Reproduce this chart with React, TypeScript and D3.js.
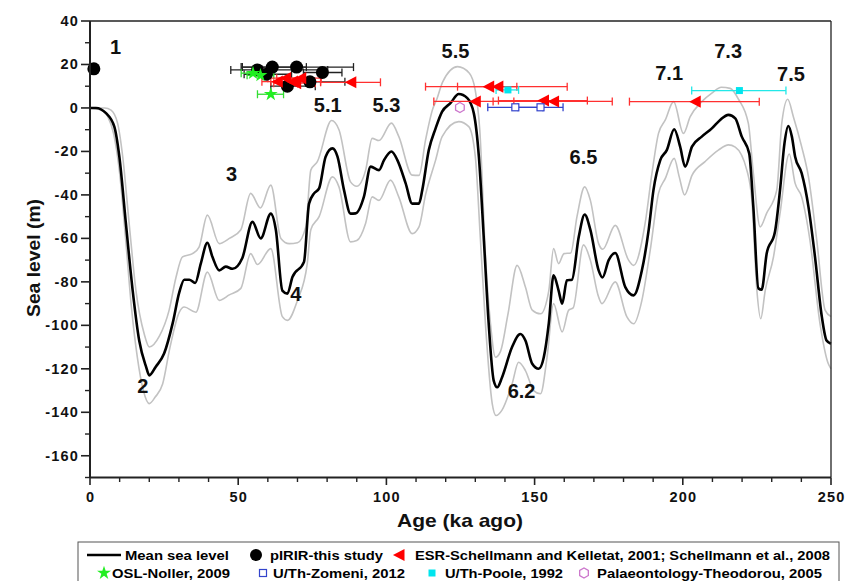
import React from 'react';
import * as d3 from 'd3';

// ---- Mean sea level curve ----
const meanAge = [0,2,5.4,8.2,9.9,12.1,14.4,16.6,18.9,20,22.2,25,27.9,30.1,31.8,33.5,35.5,37.4,39.6,41.3,43.6,45.8,48.1,51.4,54.8,57.6,61,62.7,64.9,66.6,68.3,72.2,73.9,75.6,77.3,79.5,81.8,83.5,85.7,87.9,89.6,92.4,94.7,97.5,99.2,101.7,103.7,106.5,108.7,111,112.1,114.3,116.6,118.8,121.6,124.4,127.3,129.5,131.2,132.9,134.5,136.2,137.4,139,142.4,145.2,146.9,149.2,151.4,153.1,154.8,156.4,158.1,159.3,160.9,162.6,164.9,166.9,168.8,171.6,172.9,175,177.2,180.6,183.4,186.2,188.5,190.1,192.4,194.6,197.1,199.1,200.8,203.1,206.4,209.8,212.6,215.4,217.7,219.9,222.4,223.8,225.5,226.6,228.3,231.1,232.8,234.3,235.6,236.8,237.9,240.1,242.4,244.6,246.9,248.5,250];
const meanLevel = [0,0,-2.4,-8.6,-22.4,-53,-84,-107,-119,-123,-119,-113,-99,-85,-79,-79,-80.5,-71.5,-62,-68.5,-74.7,-73,-74,-69,-52.4,-60,-48.6,-56,-84,-85.4,-77.8,-70.8,-44,-39.3,-37,-22.4,-18.6,-22.4,-37.8,-48.6,-48.5,-40.9,-27,-28.6,-24,-20,-24,-34.7,-44,-44,-37.8,-19.4,-9.4,-1.7,2.2,6.4,4.5,-2.5,-22.4,-61,-99,-125.4,-128.5,-124,-110,-104,-107,-117.7,-120,-114.7,-99,-77,-84,-90,-79.3,-79,-59.3,-49,-56,-74.7,-78,-70,-66.7,-82.4,-86.2,-74.7,-56,-37.8,-24,-19.4,-9.8,-17.8,-27,-17.8,-13.2,-9.4,-5.5,-3.2,-4.8,-13.2,-20.9,-45.5,-83,-83.6,-67,-57,-37.8,-16.3,-8.3,-13.2,-22.4,-30,-45.5,-68.5,-96,-107,-108.5];

// ---- Upper envelope ----
const upperAge = [0,5,7.1,9.3,11,13.2,15.5,18.3,20,23.4,26.7,29,31.2,34.6,36.8,39.6,43.6,47,50.9,54.2,57.5,61,64.4,67.2,70,72.8,74.5,76.7,81.5,84,87.9,90,93,95.2,97.5,101.7,104.2,108.7,111,113.2,115.5,117,119,124,128,130,131.5,133.5,135.1,136.8,138.5,141,144.1,146.9,149.2,152,154.8,156.4,158.1,159.9,162.2,164.3,166.9,168.8,171.6,173,177.2,181.7,183.4,187.3,189.6,191.8,194.1,196.9,200.2,202.5,206.4,209.8,213,216,218.8,222.1,223.8,226.1,228.3,231.7,233.4,235.4,237.3,240.1,242.4,245.2,248,250];
const upperLevel = [0,0,-1,-7,-22,-53,-84,-104,-110,-105,-93,-78,-68.5,-67,-64,-49.3,-62.4,-60,-56,-39.3,-46,-35.5,-60,-62.4,-62,-54.7,-28.6,-24.7,-5.8,-10,-34,-36,-28.6,-14,-15,-7,-13.2,-30.9,-31,-14.8,-1,4,12,19,16,8,-10,-70,-99,-114.7,-112,-95,-72.4,-82.4,-93,-94.7,-84,-64.7,-71.6,-67,-66.7,-50,-36.3,-42.4,-62.4,-65,-54,-70,-72.4,-53,-30,-11.7,-5.5,2.9,-11.7,-4,2.9,6.8,9.5,9,4,-7,-30,-54.7,-48.4,-37.8,-7,4,-4,-17.8,-31.7,-60.9,-93,-96];

// ---- Lower envelope ----
const lowerAge = [0,4,6,8,10,12,14,16,18,20,22,24.5,27,30.1,31.8,35.7,39.6,43.6,47,50.9,54.2,56.5,61,64.9,66.6,70,73.3,74.5,77.3,81.8,84,87.9,90,93,95.2,97.5,101.4,104.2,108.7,111,113.2,116.6,118.8,124.4,127.8,130,131.7,133.4,135.7,137,139,142.4,144.6,146.9,149.7,152,154.2,156.4,159.3,161.5,163,166.5,168.8,171.6,172.7,177.2,181.1,183.4,186.2,189,191.8,194.1,197.1,198.8,200.6,203.1,207.5,212,215.4,217.7,221.6,223.3,225,226.3,227.8,230.6,232.8,235.9,237.9,240.1,242.9,246.3,249.1,250];
const lowerLevel = [0,-1,-4,-12,-30,-60,-92,-115,-130,-136,-133,-127,-110,-94,-91.6,-94,-75.5,-88.5,-86,-83,-67,-72,-64.7,-96,-97.7,-88.5,-71.6,-56,-50,-31.7,-36.3,-61.6,-61,-53,-40.9,-42.5,-33.2,-41,-57.8,-54.7,-40,-24,-13.2,-6.3,-8.6,-22.4,-60,-99,-136,-141.5,-139,-127,-117,-120.8,-130,-131.5,-114.7,-90,-103,-93,-92,-63,-70,-87,-90,-80,-96,-99.3,-88.5,-65.5,-39.3,-32.4,-23.2,-31.7,-40,-31,-24.7,-19.4,-17,-18,-28.6,-42.4,-84,-97,-84,-68.5,-48.5,-21.2,-34.7,-40.9,-60.9,-99.3,-117.7,-120];

// ---- pIRIR (this study) ----
const pirirAge = [1.3,56.5,59.5,61.5,66.6,69.7,74.2,78.4];
const pirirLevel = [18,17.5,15.5,18.8,10,18.8,12,16.3];
const pirirLo = [1.3,47.5,52,51,61,51.4,66,72];
const pirirHi = [1.3,80.2,68,73,76,88.9,86,85];

// ---- ESR ----
const esrAge = [63.2,66,68.3,69.4,71.1,88,134.5,137.6,130,153,156.4,204.2];
const esrLevel = [12.1,13.7,12.1,11.4,13.7,11.8,9.8,9.8,3,3.4,3,2.9];
const esrLo = [58,60,61,62,63,77.8,113.2,124,116,137.8,136,182];
const esrHi = [70,72,77.8,76,78,98,161,144,143,167.8,176.2,225.8];

// ---- OSL ----
const oslAge = [61,55,57.5];
const oslLevel = [6.3,16,15];
const oslLo = [56.5,51,53];
const oslHi = [65.3,59,62];

// ---- U/Th Zomeni ----
const zomAge = [143.5,152];
const zomLevel = [0.3,0.3];
const zomLo = [134.2,144.4];
const zomHi = [152.8,159.6];

// ---- U/Th Poole ----
const pooleAge = [141,219.1];
const pooleLevel = [8.3,8];
const pooleLo = [137,203];
const pooleHi = [144.6,234.8];

// ---- Palaeontology ----
const palAge = [124.8];
const palLevel = [0.2];

// ---- Stage labels ----
const stageText = ['1','2','3','4','5.1','5.3','5.5','6.2','6.5','7.1','7.3','7.5'];
const stageAge = [8.6,17.8,47.8,69.4,80.2,100,123.3,145.6,166.5,195.4,215.3,236.5];
const stageLevel = [28.2,-127.7,-30.6,-85.6,1.5,1.5,26.4,-130,-22.6,16.2,26.2,15.7];

const yMajor = [40,20,0,-20,-40,-60,-80,-100,-120,-140,-160];
const yMinor = [30,10,-10,-30,-50,-70,-90,-110,-130,-150,-170];
const xMajor = [0,50,100,150,200,250];
const xMinor = [10,20,30,40,60,70,80,90,110,120,130,140,160,170,180,190,210,220,230,240];

const FONT = '"Liberation Sans", Arial, Helvetica, sans-serif';

function hexPath(cx: number, cy: number, r: number) {
  const pts = d3.range(6).map(i => {
    const a = Math.PI / 6 + (i * Math.PI) / 3;
    return [cx + r * Math.cos(a), cy + r * Math.sin(a)];
  });
  return 'M' + pts.map(p => p.join(',')).join('L') + 'Z';
}
function triLeft(cx: number, cy: number, s: number) {
  return `M${cx - s * 0.55},${cy}L${cx + s * 0.5},${cy - s * 0.55}L${cx + s * 0.5},${cy + s * 0.55}Z`;
}
const starPath = d3.symbol().type(d3.symbolStar).size(60)();

function ErrBar({ x1, x2, yy, color, w = 1.3 }: any) {
  return (
    <g stroke={color} strokeWidth={w}>
      <line x1={x1} x2={x2} y1={yy} y2={yy} />
      <line x1={x1} x2={x1} y1={yy - 4} y2={yy + 4} />
      <line x1={x2} x2={x2} y1={yy - 4} y2={yy + 4} />
    </g>
  );
}

export default function App() {
  const x = d3.scaleLinear().domain([0, 250]).range([90, 831]);
  const y = d3.scaleLinear().domain([-170, 40]).range([477.5, 21]);
  const line = d3.line<[number, number]>().x(d => x(d[0])).y(d => y(d[1])).curve(d3.curveMonotoneX);
  const meanPts = meanAge.map((a, i) => [a, meanLevel[i]] as [number, number]);
  const upPts = upperAge.map((a, i) => [a, upperLevel[i]] as [number, number]);
  const loPts = lowerAge.map((a, i) => [a, lowerLevel[i]] as [number, number]);

  const legendRow1 = 555;
  const legendRow2 = 573;
  const tickFs = 14.5;

  return (
    <div style={{ position: 'absolute', left: 0, top: 0 }}>
      <svg width={846} height={581} style={{ display: 'block', background: '#fff' }} fontFamily={FONT}>
        <rect x={0} y={0} width={846} height={581} fill="#fff" />
        {/* curves */}
        <path d={line(upPts) || ''} fill="none" stroke="#c2c2c2" strokeWidth={1.6} />
        <path d={line(loPts) || ''} fill="none" stroke="#c2c2c2" strokeWidth={1.6} />
        <path d={line(meanPts) || ''} fill="none" stroke="#000" strokeWidth={2.6} />

        {/* error bars */}
        {pirirAge.map((a, i) => pirirLo[i] !== pirirHi[i] ? (
          <ErrBar key={'pb' + i} x1={x(pirirLo[i])} x2={x(pirirHi[i])} yy={y(pirirLevel[i])} color="#222" />
        ) : null)}
        {oslAge.map((a, i) => (
          <ErrBar key={'ob' + i} x1={x(oslLo[i])} x2={x(oslHi[i])} yy={y(oslLevel[i])} color="#33dd33" />
        ))}
        {esrAge.map((a, i) => (
          <ErrBar key={'eb' + i} x1={x(esrLo[i])} x2={x(esrHi[i])} yy={y(esrLevel[i])} color="#ff3030" />
        ))}
        {zomAge.map((a, i) => (
          <ErrBar key={'zb' + i} x1={x(zomLo[i])} x2={x(zomHi[i])} yy={y(zomLevel[i])} color="#3344cc" />
        ))}
        {pooleAge.map((a, i) => (
          <ErrBar key={'qb' + i} x1={x(pooleLo[i])} x2={x(pooleHi[i])} yy={y(pooleLevel[i])} color="#22e8e8" />
        ))}

        {/* markers */}
        {pirirAge.map((a, i) => (
          <circle key={'pc' + i} cx={x(a)} cy={y(pirirLevel[i])} r={6.5} fill="#000" />
        ))}
        {oslAge.map((a, i) => (
          <path key={'os' + i} d={starPath || ''} transform={`translate(${x(a)},${y(oslLevel[i])})`} fill="#22ee22" />
        ))}
        {esrAge.map((a, i) => (
          <path key={'et' + i} d={triLeft(x(a), y(esrLevel[i]), 11)} fill="#ff0000" />
        ))}
        {zomAge.map((a, i) => (
          <rect key={'zs' + i} x={x(a) - 3.5} y={y(zomLevel[i]) - 3.5} width={7} height={7} fill="#fff" stroke="#3344cc" strokeWidth={1.2} />
        ))}
        {pooleAge.map((a, i) => (
          <rect key={'qs' + i} x={x(a) - 3.5} y={y(pooleLevel[i]) - 3.5} width={7} height={7} fill="#00e5ee" />
        ))}
        {palAge.map((a, i) => (
          <path key={'pa' + i} d={hexPath(x(a), y(palLevel[i]), 5)} fill="none" stroke="#cc77cc" strokeWidth={1.3} />
        ))}

        {/* stage labels */}
        {stageText.map((t, i) => (
          <text key={'st' + i} x={x(stageAge[i])} y={y(stageLevel[i])} textAnchor="middle" dominantBaseline="central"
            fontSize={20} fontWeight="bold" fill="#111">{t}</text>
        ))}

        {/* frame */}
        <line x1={90} x2={831} y1={21} y2={21} stroke="#222" strokeWidth={1.3} />
        <line x1={831} x2={831} y1={21} y2={477.5} stroke="#222" strokeWidth={1.3} />
        <line x1={90} x2={90} y1={21} y2={477.5} stroke="#222" strokeWidth={2} />
        <line x1={90} x2={831} y1={477.5} y2={477.5} stroke="#222" strokeWidth={2} />

        {/* y ticks */}
        {yMajor.map(v => (
          <g key={'ym' + v}>
            <line x1={81} x2={90} y1={y(v)} y2={y(v)} stroke="#222" strokeWidth={1.6} />
            <text x={79} y={y(v)} textAnchor="end" dominantBaseline="central" fontSize={tickFs} letterSpacing={1.2} fontWeight="bold" fill="#111">{v}</text>
          </g>
        ))}
        {yMinor.map(v => (
          <line key={'yn' + v} x1={85} x2={90} y1={y(v)} y2={y(v)} stroke="#222" strokeWidth={1.4} />
        ))}
        {/* x ticks */}
        {xMajor.map(v => (
          <g key={'xm' + v}>
            <line x1={x(v)} x2={x(v)} y1={477.5} y2={485} stroke="#222" strokeWidth={1.6} />
            <text x={x(v) + 0.6} y={497} textAnchor="middle" dominantBaseline="central" fontSize={tickFs} letterSpacing={1.2} fontWeight="bold" fill="#111">{v}</text>
          </g>
        ))}
        {xMinor.map(v => (
          <line key={'xn' + v} x1={x(v)} x2={x(v)} y1={477.5} y2={482} stroke="#222" strokeWidth={1.4} />
        ))}

        {/* axis titles */}
        <text x={460} y={520} textAnchor="middle" dominantBaseline="central" fontSize={19} fontWeight="bold" fill="#111" textLength={126} lengthAdjust="spacingAndGlyphs">Age (ka ago)</text>
        <text transform="translate(40,258) rotate(-90)" textAnchor="middle" fontSize={19} fontWeight="bold" fill="#111" textLength={118} lengthAdjust="spacingAndGlyphs">Sea level (m)</text>

        {/* legend */}
        <rect x={78} y={542} width={761} height={45} fill="#fff" stroke="#555" strokeWidth={1} />
        <line x1={87} x2={121} y1={legendRow1} y2={legendRow1} stroke="#000" strokeWidth={2.6} />
        <text x={125} y={legendRow1} dominantBaseline="central" fontSize={13} fontWeight="bold" textLength={104} lengthAdjust="spacingAndGlyphs">Mean sea level</text>
        <circle cx={256} cy={legendRow1} r={6} fill="#000" />
        <text x={270} y={legendRow1} dominantBaseline="central" fontSize={13} fontWeight="bold" textLength={113} lengthAdjust="spacingAndGlyphs">pIRIR-this study</text>
        <path d={triLeft(399, legendRow1, 11)} fill="#ff0000" />
        <text x={415} y={legendRow1} dominantBaseline="central" fontSize={13} fontWeight="bold" textLength={415} lengthAdjust="spacingAndGlyphs">ESR-Schellmann and Kelletat, 2001; Schellmann et al., 2008</text>

        <path d={starPath || ''} transform={`translate(104,${legendRow2})`} fill="#22ee22" />
        <text x={112} y={legendRow2} dominantBaseline="central" fontSize={13} fontWeight="bold" textLength={118} lengthAdjust="spacingAndGlyphs">OSL-Noller, 2009</text>
        <rect x={259.5} y={legendRow2 - 3.5} width={7} height={7} fill="#fff" stroke="#3344cc" strokeWidth={1.2} />
        <text x={273} y={legendRow2} dominantBaseline="central" fontSize={13} fontWeight="bold" textLength={132} lengthAdjust="spacingAndGlyphs">U/Th-Zomeni, 2012</text>
        <rect x={428.5} y={legendRow2 - 3.5} width={7} height={7} fill="#00e5ee" />
        <text x={445} y={legendRow2} dominantBaseline="central" fontSize={13} fontWeight="bold" textLength={118} lengthAdjust="spacingAndGlyphs">U/Th-Poole, 1992</text>
        <path d={hexPath(584, legendRow2, 5)} fill="none" stroke="#cc77cc" strokeWidth={1.3} />
        <text x={597} y={legendRow2} dominantBaseline="central" fontSize={13} fontWeight="bold" textLength={225} lengthAdjust="spacingAndGlyphs">Palaeontology-Theodorou, 2005</text>
      </svg>
    </div>
  );
}
